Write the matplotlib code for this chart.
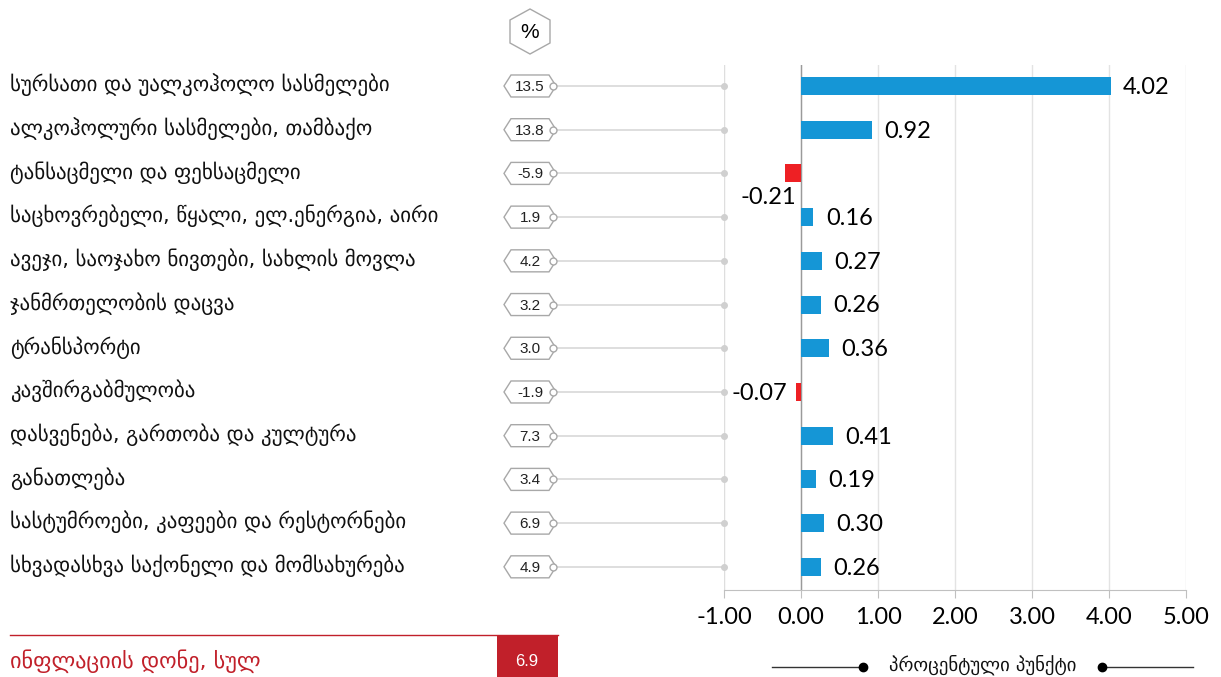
import matplotlib
matplotlib.use("Agg")
import matplotlib.pyplot as plt
from matplotlib.patches import Polygon, Rectangle

plt.rcParams["font.family"] = ["DejaVu Sans"]

# data
categories = [
    "სურსათი და უალკოჰოლო სასმელები",
    "ალკოჰოლური სასმელები, თამბაქო",
    "ტანსაცმელი და ფეხსაცმელი",
    "საცხოვრებელი, წყალი, ელ.ენერგია, აირი",
    "ავეჯი, საოჯახო ნივთები, სახლის მოვლა",
    "ჯანმრთელობის დაცვა",
    "ტრანსპორტი",
    "კავშირგაბმულობა",
    "დასვენება, გართობა და კულტურა",
    "განათლება",
    "სასტუმროები, კაფეები და რესტორნები",
    "სხვადასხვა საქონელი და მომსახურება",
]
pct_change = [13.5, 13.8, -5.9, 1.9, 4.2, 3.2, 3.0, -1.9, 7.3, 3.4, 6.9, 4.9]
contribution = [4.02, 0.92, -0.21, 0.16, 0.27, 0.26, 0.36, -0.07, 0.41, 0.19, 0.30, 0.26]
xticks = [-1, 0, 1, 2, 3, 4, 5]
total_label = "ინფლაციის დონე, სულ"
total_value = 6.9
unit_label = "პროცენტული პუნქტი"

W, H = 1221, 677
fig = plt.figure(figsize=(W / 100, H / 100), dpi=100)

# overlay axes in pixel coordinates for decorations
ov = fig.add_axes([0, 0, 1, 1], zorder=3)
ov.set_xlim(0, W)
ov.set_ylim(H, 0)
ov.axis("off")
ov.patch.set_alpha(0)

# main bar axes
ax = fig.add_axes([724 / W, 1 - 590 / H, (1186 - 724) / W, (590 - 65) / H])
n = len(categories)
ax.set_xlim(-1, 5)
ax.set_ylim(n - 1 + 0.53, -0.48)

blue = "#1596d6"
red = "#ee2024"
colors = [blue if v >= 0 else red for v in contribution]
ax.barh(range(n), contribution, height=0.41, color=colors, zorder=3)

for i, v in enumerate(contribution):
    if v >= 0:
        ax.annotate(f"{v:.2f}", (v, i), xytext=(9, -1), textcoords="offset points",
                    ha="left", va="center", fontsize=17, family="Lato")
    elif i == 2:
        ax.annotate(f"{v:.2f}", (v, i), xytext=(8, -17), textcoords="offset points",
                    ha="right", va="center", fontsize=17, family="Lato")
    else:
        ax.annotate(f"{v:.2f}", (v, i), xytext=(-6, -1), textcoords="offset points",
                    ha="right", va="center", fontsize=17, family="Lato")

ax.set_xticks(xticks)
ax.set_xticklabels([f"{t:.2f}" for t in xticks], fontsize=17, family="Lato")
ax.set_yticks([])
ax.grid(axis="x", color="#e3e3e3", linewidth=1, zorder=0)
ax.axvline(0, color="#9a9a9a", linewidth=1, zorder=2)
ax.axvline(-1, color="#dedede", linewidth=1.5, zorder=2)
for s in ["top", "right", "left"]:
    ax.spines[s].set_visible(False)
ax.spines["bottom"].set_color("#c0c0c0")
ax.tick_params(axis="x", length=6, color="#c0c0c0", pad=6)


def row_px(i):
    disp = ax.transData.transform((0, i))
    return ov.transData.inverted().transform(disp)[1]


def hexagon(cx, cy, hw, hh, tip):
    return [(cx - hw - tip, cy), (cx - hw, cy - hh), (cx + hw, cy - hh),
            (cx + hw + tip, cy), (cx + hw, cy + hh), (cx - hw, cy + hh)]


for i, (lab, p) in enumerate(zip(categories, pct_change)):
    y = row_px(i)
    ov.text(10, y - 1, lab, ha="left", va="center", fontsize=15, color="#111111")
    ov.plot([553, 724], [y, y], color="#d8d8d8", linewidth=1.2, zorder=1)
    ov.plot([724], [y], marker="o", markersize=4, color="#d0d0d0", zorder=2)
    ov.add_patch(Polygon(hexagon(530, y, 19, 11, 7), closed=True, facecolor="white",
                         edgecolor="#a8a8a8", linewidth=1, zorder=3))
    ov.plot([553], [y], marker="o", markersize=5, markerfacecolor="white",
            markeredgecolor="#a8a8a8", markeredgewidth=1, zorder=4)
    ov.text(530, y + 1, f"{p:.1f}", ha="center", va="center", fontsize=11,
            family="Liberation Sans", color="#222222", zorder=5)

# percent header hexagon (pointy top)
ov.add_patch(Polygon([(530, 9), (550, 20), (550, 43), (530, 54), (510, 43), (510, 20)],
                     closed=True, facecolor="white", edgecolor="#a8a8a8", linewidth=1))
ov.text(530, 32, "%", ha="center", va="center", fontsize=15, family="Liberation Sans")

# total inflation footer
dark_red = "#c1202a"
ov.plot([10, 558], [635, 635], color=dark_red, linewidth=1)
ov.add_patch(Rectangle((497, 635), 61, 42, facecolor=dark_red, edgecolor="none"))
ov.text(527, 661, f"{total_value:.1f}", ha="center", va="center", fontsize=12,
        color="white", family="Liberation Sans")
ov.text(10, 661, total_label, ha="left", va="center", fontsize=16, color=dark_red)

# unit legend
ov.plot([772, 863], [667, 667], color="#333333", linewidth=1)
ov.plot([863], [667], marker="o", markersize=6, color="black")
ov.plot([1102, 1193], [667, 667], color="#333333", linewidth=1)
ov.plot([1102], [667], marker="o", markersize=6, color="black")
ov.text(983, 665, unit_label, ha="center", va="center", fontsize=13.5, color="#111111")

fig.savefig("out.png", dpi=100)
